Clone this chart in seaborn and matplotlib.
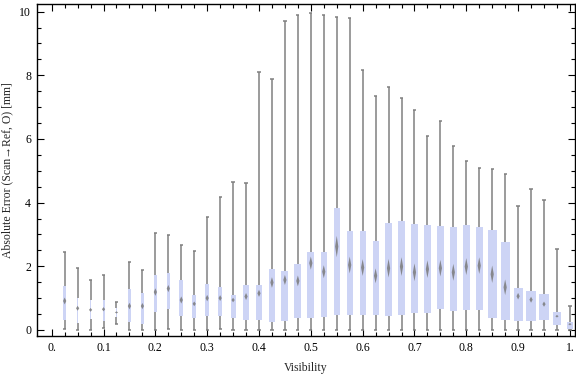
import numpy as np
import matplotlib
matplotlib.use('Agg')
import matplotlib.pyplot as plt
import seaborn as sns

# visibility bins and box/whisker summary values
visibility = [0.025, 0.05, 0.075, 0.1, 0.125, 0.15, 0.175, 0.2, 0.225, 0.25,
              0.275, 0.3, 0.325, 0.35, 0.375, 0.4, 0.425, 0.45, 0.475, 0.5,
              0.525, 0.55, 0.575, 0.6, 0.625, 0.65, 0.675, 0.7, 0.725, 0.75,
              0.775, 0.8, 0.825, 0.85, 0.875, 0.9, 0.925, 0.95, 0.975, 1.0]
whisk_lo = [0.02, 0.00, 0.00, 0.07, 0.20, 0.00, 0.00, 0.00, 0.03, 0.00,
            0.00, 0.00, 0.03, 0.00, 0.00, 0.00, 0.00, 0.00, 0.00, 0.00,
            0.00, 0.00, 0.00, 0.00, 0.00, 0.00, 0.00, 0.01, 0.00, 0.00,
            0.01, 0.00, 0.00, 0.00, 0.00, 0.00, 0.00, 0.00, 0.00, 0.00]
q1 = [0.31, 0.23, 0.34, 0.29, 0.40, 0.26, 0.20, 0.55, 0.67, 0.45,
      0.36, 0.44, 0.44, 0.38, 0.31, 0.31, 0.25, 0.28, 0.38, 0.38,
      0.41, 0.47, 0.47, 0.47, 0.47, 0.44, 0.47, 0.53, 0.53, 0.66,
      0.58, 0.64, 0.63, 0.39, 0.31, 0.28, 0.28, 0.31, 0.16, 0.03]
median = [0.91, 0.68, 0.63, 0.65, 0.55, 0.75, 0.75, 1.19, 1.30, 0.94,
          0.82, 1.00, 1.00, 0.94, 1.05, 1.15, 1.49, 1.57, 1.54, 2.10,
          1.83, 2.62, 2.04, 1.96, 1.70, 1.94, 1.99, 1.81, 1.91, 1.94,
          1.81, 1.99, 2.02, 1.75, 1.34, 1.06, 0.95, 0.81, 0.43, 0.18]
q3 = [1.39, 1.00, 0.94, 0.95, 0.68, 1.29, 1.16, 1.73, 1.79, 1.57,
      1.10, 1.45, 1.35, 1.10, 1.42, 1.42, 1.92, 1.86, 2.08, 2.45,
      2.45, 3.84, 3.11, 3.11, 2.80, 3.36, 3.43, 3.33, 3.30, 3.27,
      3.24, 3.30, 3.24, 3.14, 2.77, 1.32, 1.23, 1.13, 0.57, 0.25]
whisk_hi = [2.44, 1.94, 1.56, 1.73, 0.88, 2.13, 1.89, 3.04, 2.98, 2.66,
            2.47, 3.56, 4.19, 4.66, 4.63, 8.10, 7.88, 9.71, 9.91, 9.96,
            9.91, 9.83, 9.80, 8.17, 7.34, 7.63, 7.29, 6.91, 6.09, 6.56,
            5.78, 5.30, 5.08, 5.05, 4.90, 3.88, 4.42, 4.08, 2.54, 0.74]

# drawn box widths in pixels (they vary from bin to bin in the original)
box_px = [3, 1.5, 1.5, 2, 1.2, 2.7, 2.3, 3.5, 3.3, 4,
          4, 4.3, 4.3, 5, 5.3, 5.3, 6, 7, 7, 7,
          6.3, 6, 6, 6, 6, 6.3, 6.7, 7, 7, 7,
          7, 7, 7, 9, 9, 9, 10.5, 10, 8.3, 6.7]

x_ticks = [0.0, 0.1, 0.2, 0.3, 0.4, 0.5, 0.6, 0.7, 0.8, 0.9, 1.0]
x_labels = ['0.', '0.1', '0.2', '0.3', '0.4', '0.5', '0.6', '0.7', '0.8', '0.9', '1.']

sns.set_style('ticks')
plt.rcParams['font.family'] = ['Liberation Serif', 'DejaVu Serif']

fig = plt.figure(figsize=(5.76, 3.77), dpi=100)
ax = fig.add_axes([0.0637, 0.1088, 0.9351, 0.8806])

xlim = (-0.029, 1.0104)
px_per_unit = 0.9351 * 576 / (xlim[1] - xlim[0])

x = np.array(visibility)
lo, a, m, b, hi = map(np.array, (whisk_lo, q1, median, q3, whisk_hi))
w = np.array(box_px) / px_per_unit

box_color = '#cdd4f5'
whisk_color = '#808080'

# whiskers with small caps
ax.vlines(x, b, hi, color=whisk_color, lw=1.1, zorder=2)
ax.vlines(x, lo, a, color=whisk_color, lw=1.1, zorder=2)
cap = 3.2 / px_per_unit
ax.hlines(hi, x - cap / 2, x + cap / 2, color=whisk_color, lw=1.1, zorder=2)
ax.hlines(lo, x - cap / 2, x + cap / 2, color=whisk_color, lw=1.1, zorder=2)

# boxes
ax.bar(x, b - a, bottom=a, width=w, color=box_color, edgecolor='none', zorder=3)

# median diamonds
dw = 1.6 / px_per_unit
for xi, mi, ai, bi in zip(x, m, a, b):
    dh = max(0.1 * (bi - ai), 0.035)
    ax.fill([xi, xi + dw, xi, xi - dw], [mi + dh, mi, mi - dh, mi],
            color='#7a7a7a', alpha=0.85, lw=0, zorder=4)

ax.set_xlim(*xlim)
ax.set_ylim(-0.19, 10.24)
ax.set_xticks(x_ticks)
ax.set_xticklabels(x_labels)
ax.set_xticks(np.arange(0, 1.001, 0.025), minor=True)
ax.set_yticks([0, 2, 4, 6, 8, 10])
ax.set_yticks(np.arange(0, 10.01, 0.5), minor=True)

ax.tick_params(which='both', direction='in', top=True, right=True,
               labelsize=8.5, colors='black', width=0.8, pad=4)
ax.tick_params(which='major', length=5)
ax.tick_params(which='minor', length=3)
for s in ax.spines.values():
    s.set_color('black')
    s.set_linewidth(1.0)

ax.set_xlabel('Visibility', fontsize=8.5, labelpad=6)
ax.set_ylabel('Absolute Error (Scan\u2192Ref, O) [mm]', fontsize=8.5, labelpad=4)

fig.savefig('out.png', dpi=100)
